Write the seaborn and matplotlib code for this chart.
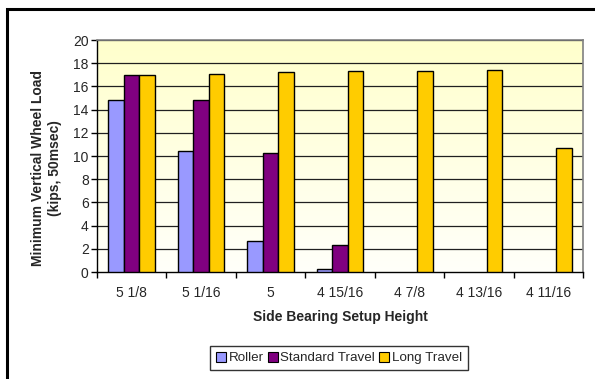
import numpy as np
import pandas as pd
import seaborn as sns
import matplotlib.pyplot as plt
from matplotlib.patches import Rectangle

# Datos (NaN = sin barra)
heights = ["5 1/8", "5 1/16", "5", "4 15/16", "4 7/8", "4 13/16", "4 11/16"]
roller = [14.8, 10.4, 2.7, 0.3, np.nan, np.nan, np.nan]
standard = [17.0, 14.8, 10.3, 2.3, np.nan, np.nan, np.nan]
long_travel = [17.0, 17.1, 17.2, 17.3, 17.3, 17.4, 10.7]
series = ["Roller", "Standard Travel", "Long Travel"]
colores = ["#9999FF", "#800080", "#FFCC00"]

df = pd.DataFrame({
    "altura": heights * 3,
    "carga": roller + standard + long_travel,
    "serie": [s for s in series for _ in heights],
})

sns.set_theme(style="white")
plt.rcParams["font.family"] = ["Liberation Sans", "DejaVu Sans"]

fig = plt.figure(figsize=(5.95, 3.79), dpi=100)
ax = fig.add_axes([97 / 595, 107 / 379, 486 / 595, 232 / 379])

# Fondo degradado amarillo
grad = np.linspace(0, 1, 256).reshape(-1, 1)
ax.imshow(grad, cmap=plt.matplotlib.colors.LinearSegmentedColormap.from_list(
    "bg", ["#FFFFFA", "#FFFFCC"]), aspect="auto", extent=[-0.5, 6.5, 0, 20],
    origin="lower", zorder=0)

sns.barplot(data=df, x="altura", y="carga", hue="serie", hue_order=series,
            order=heights, palette=colores, saturation=1,
            width=0.67, gap=0, edgecolor="black", linewidth=1, ax=ax,
            zorder=3, legend=True)

ax.set_xlim(-0.5, 6.5)
ax.set_ylim(0, 20)
ax.set_yticks(np.arange(0, 21, 2))
for y in np.arange(2, 21, 2):
    ax.axhline(y, color="#202020", lw=0.9, zorder=1)

ax.set_xticks(np.arange(-0.5, 7, 1), minor=True)
ax.tick_params(axis="x", which="major", length=0, labelsize=10, pad=10)
ax.tick_params(axis="x", which="minor", length=4, width=1, color="black", direction="out", bottom=True)
ax.tick_params(axis="y", which="major", length=4, width=1, color="black", direction="out",
               left=True, labelsize=10, pad=2)

for lado in ["top", "right"]:
    ax.spines[lado].set_color("#808080")
    ax.spines[lado].set_linewidth(1.2)
for lado in ["left", "bottom"]:
    ax.spines[lado].set_color("black")
    ax.spines[lado].set_linewidth(1)

ax.set_xlabel("Side Bearing Setup Height", fontsize=10, fontweight="bold", labelpad=7)
ax.set_ylabel("Minimum Vertical Wheel Load\n(kips, 50msec)", fontsize=10, fontweight="bold",
              linespacing=1.25)
ax.yaxis.set_label_coords(-0.072, 0.45)

leg = ax.legend(loc="center", bbox_to_anchor=(339 / 595, 21 / 379), bbox_transform=fig.transFigure,
                ncol=3, fontsize=9.6, frameon=True, fancybox=False, handlelength=0.75,
                handleheight=0.75, handletextpad=0.2, columnspacing=0.3, borderpad=0.45,
                title=None)
leg.get_frame().set_edgecolor("black")
leg.get_frame().set_linewidth(1)
for h in leg.legend_handles:
    h.set_edgecolor("black")
    h.set_linewidth(0.8)

# Marco exterior
fig.patches.append(Rectangle((7 / 595, -0.05), 1.1, 1.05 - 9 / 379, transform=fig.transFigure,
                             fill=False, edgecolor="black", linewidth=2.2))

fig.savefig("out.png", dpi=100)
